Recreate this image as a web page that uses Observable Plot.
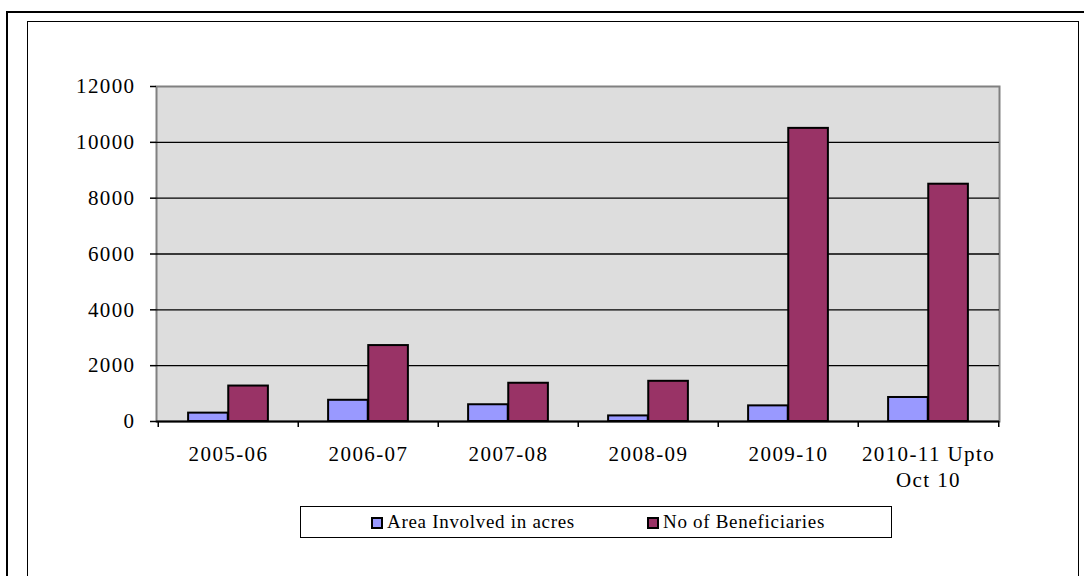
<!DOCTYPE html>
<html>
<head>
<meta charset="utf-8">
<script src="https://cdn.jsdelivr.net/npm/d3@7"></script>
<script src="https://cdn.jsdelivr.net/npm/@observablehq/plot@0.6"></script>
<style>
  html, body { margin: 0; padding: 0; background: #fff; }
  #wrap { position: relative; width: 1084px; height: 576px; overflow: hidden; font-family: "Liberation Serif", "DejaVu Serif", serif; }
  #outer { position: absolute; left: 6px; top: 11px; width: 1200px; height: 700px; border-left: 2px solid #000; border-top: 2px solid #000; }
  #inner { position: absolute; left: 27px; top: 21px; width: 1050px; height: 700px; border: 1.5px solid #000; }
  #chart { position: absolute; left: 0; top: 0; }
  #chart svg text { font-size: 21px; letter-spacing: 1.4px; fill: #000; }
  #legend { position: absolute; left: 300px; top: 506px; width: 590px; height: 30px; border: 1px solid #000; font-size: 19px; }
  .item { position: absolute; top: 0; height: 30px; line-height: 30px; white-space: nowrap; letter-spacing: 0.7px; }
  .sw { position: absolute; top: 10px; width: 8px; height: 8px; border: 2px solid #000; }
</style>
</head>
<body>
<div id="wrap">
  <div id="outer"></div>
  <div id="inner"></div>
  <div id="chart"></div>
  <div id="legend"></div>
</div>
<script>
const categories = ["2005-06", "2006-07", "2007-08", "2008-09", "2009-10", "2010-11 Upto Oct 10"];
const areaAcres = [300, 760, 600, 200, 560, 860];
const beneficiaries = [1270, 2720, 1370, 1440, 10500, 8500];
const seriesNames = ["Area Involved in acres", "No of Beneficiaries"];
const seriesColors = ["#9999FF", "#993366"];
const yTicks = [0, 2000, 4000, 6000, 8000, 10000, 12000];

const rowsA = categories.map((c, i) => ({category: c, value: areaAcres[i]}));
const rowsB = categories.map((c, i) => ({category: c, value: beneficiaries[i]}));
const band = 843 / categories.length;

const chart = Plot.plot({
  width: 1084,
  height: 480,
  marginLeft: 156,
  marginRight: 85,
  marginTop: 86,
  marginBottom: 59,
  style: {fontFamily: "Liberation Serif, serif", fontSize: "21px", background: "transparent", color: "#000", overflow: "visible"},
  x: {domain: categories, padding: 0},
  y: {domain: [0, 12000]},
  marks: [
    Plot.frame({fill: "#dddddd", stroke: "#808080", strokeWidth: 2}),
    Plot.ruleY(yTicks.filter(v => v > 0 && v < 12000), {stroke: "#000", strokeWidth: 1.3}),
    Plot.barY(rowsA, {x: "category", y: "value", fill: seriesColors[0], stroke: "#000", strokeWidth: 2, insetLeft: band * 0.2143, insetRight: band * 0.5}),
    Plot.barY(rowsB, {x: "category", y: "value", fill: seriesColors[1], stroke: "#000", strokeWidth: 2, insetLeft: band * 0.5, insetRight: band * 0.2143}),
    Plot.ruleY([0], {stroke: "#000", strokeWidth: 2}),
    Plot.ruleX(categories, {x: d => d, dx: -band / 2, y1: 0, y2: 0, insetBottom: -6, stroke: "#000", strokeWidth: 1.5}),
    Plot.ruleX(categories.slice(-1), {x: d => d, dx: band / 2, y1: 0, y2: 0, insetBottom: -6, stroke: "#000", strokeWidth: 1.5}),
    Plot.axisX({tickSize: 0, tickPadding: 22, lineHeight: 1.2,
      tickFormat: d => d.replace(" Oct", "\nOct"), label: null}),
    Plot.axisY({ticks: yTicks, tickFormat: d => String(d), tickSize: 6, tickPadding: 15, label: null, strokeWidth: 1.5})
  ]
});
document.getElementById("chart").appendChild(chart);

const legend = document.getElementById("legend");
const legendPos = [[70, 86], [346, 362]];
seriesNames.forEach((name, i) => {
  const sw = document.createElement("div");
  sw.className = "sw";
  sw.style.left = legendPos[i][0] + "px";
  sw.style.background = seriesColors[i];
  legend.appendChild(sw);
  const t = document.createElement("div");
  t.className = "item";
  t.style.left = legendPos[i][1] + "px";
  t.textContent = name;
  legend.appendChild(t);
});
</script>
</body>
</html>
